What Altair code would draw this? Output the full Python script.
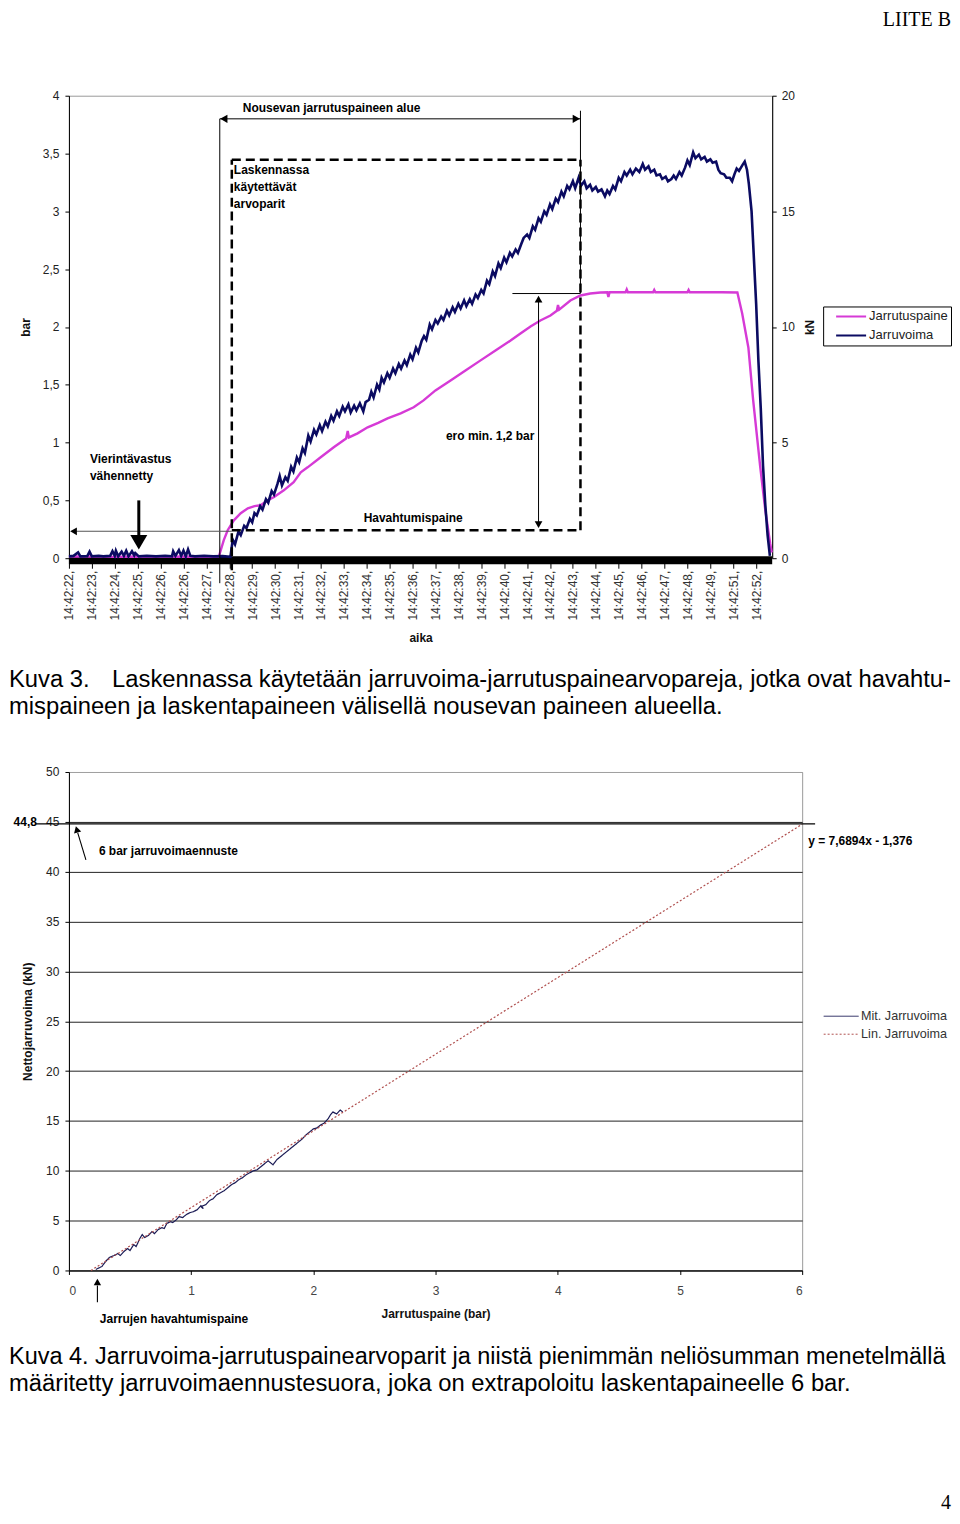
import altair as alt
import pandas as pd

FONT = "Liberation Sans"
MAG = "#d63ad6"
NAVY = "#0b0b62"
NAVY2 = "#1b1b55"
RED = "#b0504f"

# ---------------- Chart 1 (time series) ----------------
time_labels = ["14:42:22,", "14:42:23,", "14:42:24,", "14:42:25,", "14:42:26,", "14:42:26,",
               "14:42:27,", "14:42:28,", "14:42:29,", "14:42:30,", "14:42:31,", "14:42:32,",
               "14:42:33,", "14:42:34,", "14:42:35,", "14:42:36,", "14:42:37,", "14:42:38,",
               "14:42:39,", "14:42:40,", "14:42:41,", "14:42:42,", "14:42:43,", "14:42:44,",
               "14:42:45,", "14:42:46,", "14:42:47,", "14:42:48,", "14:42:49,", "14:42:51,",
               "14:42:52,"]
bar_ticks = [0, 0.5, 1, 1.5, 2, 2.5, 3, 3.5, 4]
kn_ticks = [0, 5, 10, 15, 20]
series1 = ["Jarrutuspaine", "Jarruvoima"]

# Jarrutuspaine (bar) as (time position, bar)
jarrutuspaine = [
    (0.0, 0.015), (1.0, 0.015), (2.0, 0.012), (3.0, 0.015), (4.0, 0.012), (5.0, 0.015),
    (6.0, 0.012), (6.54, 0.012), (6.76, 0.156), (6.93, 0.242), (7.20, 0.328), (7.50, 0.389),
    (7.81, 0.432), (8.10, 0.45), (8.37, 0.458), (8.68, 0.501), (8.94, 0.527), (9.38, 0.587),
    (9.81, 0.657), (10.12, 0.743), (10.42, 0.786), (10.99, 0.873), (11.56, 0.959),
    (12.10, 1.035), (12.17, 1.10), (12.22, 1.045), (12.60, 1.08), (13.04, 1.132),
    (13.50, 1.17), (13.91, 1.21), (14.48, 1.253), (15.05, 1.305), (15.48, 1.365),
    (16.0, 1.451), (16.66, 1.538), (17.31, 1.624), (17.97, 1.711), (18.62, 1.797),
    (19.28, 1.883), (19.71, 1.944), (20.15, 2.004), (20.58, 2.056), (21.02, 2.099),
    (21.30, 2.14), (21.35, 2.19), (21.40, 2.15), (21.89, 2.229), (22.33, 2.272),
    (22.76, 2.289), (23.2, 2.298), (23.5, 2.30), (23.55, 2.26), (23.6, 2.30), (24.3, 2.30),
    (24.35, 2.325), (24.4, 2.30), (25.5, 2.30), (25.55, 2.32), (25.6, 2.30), (27.0, 2.30),
    (27.05, 2.32), (27.1, 2.30), (28.5, 2.30), (29.18, 2.298), (29.39, 2.117),
    (29.66, 1.823), (29.87, 1.365), (30.18, 0.786), (30.4, 0.415), (30.61, 0.130),
    (30.68, 0.05)]

# Jarruvoima (kN) as (time position, kN)
jarruvoima = [
    (0.0, 0.08), (0.2, 0.1), (0.4, 0.25), (0.5, 0.08), (0.8, 0.09), (0.9, 0.28), (1.0, 0.08),
    (1.3, 0.1), (1.5, 0.08), (1.8, 0.1), (1.9, 0.3), (2.0, 0.1), (2.05, 0.32), (2.15, 0.08),
    (2.3, 0.28), (2.4, 0.1), (2.5, 0.32), (2.6, 0.08), (2.75, 0.3), (2.85, 0.12), (2.9, 0.22),
    (3.05, 0.08), (3.4, 0.1), (3.8, 0.08), (4.2, 0.1), (4.5, 0.08), (4.55, 0.3), (4.65, 0.1),
    (4.8, 0.35), (4.9, 0.1), (5.0, 0.33), (5.1, 0.08), (5.2, 0.38), (5.3, 0.1), (5.5, 0.08),
    (5.9, 0.1), (6.3, 0.08), (6.7, 0.09), (7.05, 0.06),
    (7.15, 0.8), (7.25, 0.6), (7.4, 1.15), (7.5, 1.0), (7.65, 1.4), (7.75, 1.3), (7.9, 1.7),
    (8.0, 1.55), (8.1, 1.95), (8.2, 1.85), (8.35, 2.25), (8.45, 2.1), (8.6, 2.55), (8.7, 2.4),
    (8.85, 2.9), (8.95, 2.75), (9.1, 3.2), (9.2, 3.55), (9.3, 3.15), (9.45, 3.5), (9.55, 3.35),
    (9.7, 3.95), (9.8, 3.75), (9.95, 4.35), (10.05, 4.15), (10.2, 4.75), (10.3, 4.55),
    (10.45, 5.3), (10.55, 5.05), (10.7, 5.55), (10.8, 5.35), (10.95, 5.75), (11.05, 5.5),
    (11.2, 5.9), (11.3, 5.7), (11.45, 6.15), (11.55, 5.95), (11.7, 6.35), (11.8, 6.15),
    (11.95, 6.55), (12.05, 6.35), (12.2, 6.65), (12.3, 6.3), (12.45, 6.6), (12.55, 6.4),
    (12.7, 6.7), (12.85, 6.35), (12.95, 6.75), (13.1, 6.85), (13.2, 7.2), (13.3, 6.95),
    (13.45, 7.5), (13.55, 7.3), (13.65, 7.8), (13.75, 7.6), (13.9, 8.0), (14.0, 7.8),
    (14.15, 8.2), (14.25, 8.0), (14.4, 8.4), (14.5, 8.2), (14.65, 8.55), (14.75, 8.35),
    (14.9, 8.8), (15.0, 8.6), (15.15, 9.1), (15.25, 8.9), (15.4, 9.4), (15.5, 9.6),
    (15.6, 9.45), (15.75, 10.1), (15.85, 9.9), (16.0, 10.3), (16.1, 10.15), (16.25, 10.45),
    (16.35, 10.3), (16.5, 10.7), (16.6, 10.5), (16.75, 10.85), (16.85, 10.65), (17.0, 11.0),
    (17.1, 10.8), (17.25, 11.15), (17.35, 10.9), (17.5, 11.2), (17.6, 11.0), (17.75, 11.4),
    (17.85, 11.25), (18.0, 11.6), (18.1, 11.45), (18.25, 12.0), (18.35, 11.85), (18.5, 12.4),
    (18.6, 12.2), (18.75, 12.75), (18.85, 12.55), (19.0, 13.0), (19.1, 12.8), (19.25, 13.2),
    (19.35, 13.05), (19.5, 13.35), (19.6, 13.2), (19.75, 13.6), (19.85, 13.85), (20.0, 14.0),
    (20.1, 13.85), (20.25, 14.35), (20.35, 14.2), (20.5, 14.7), (20.6, 14.55), (20.75, 15.0),
    (20.85, 14.85), (21.0, 15.3), (21.1, 15.1), (21.25, 15.55), (21.35, 15.4), (21.5, 15.85),
    (21.6, 15.65), (21.75, 16.1), (21.85, 15.95), (22.0, 16.3), (22.1, 16.0), (22.25, 16.45),
    (22.35, 16.1), (22.5, 16.3),
    (22.6, 16.0), (22.75, 16.15), (22.85, 15.9), (23.0, 16.05), (23.1, 15.85), (23.25, 15.95),
    (23.4, 15.65), (23.5, 15.9), (23.6, 15.75), (23.75, 16.1), (23.85, 15.95), (24.0, 16.45),
    (24.1, 16.3), (24.25, 16.7), (24.35, 16.55), (24.5, 16.8), (24.6, 16.6), (24.75, 16.85),
    (24.9, 16.7), (25.05, 17.05), (25.15, 16.8), (25.3, 16.95), (25.4, 16.7), (25.55, 16.8),
    (25.65, 16.55), (25.8, 16.6), (25.9, 16.4), (26.05, 16.5), (26.15, 16.3), (26.3, 16.4),
    (26.4, 16.55), (26.5, 16.4), (26.65, 16.7), (26.75, 16.55), (26.9, 16.9), (27.0, 17.2),
    (27.1, 17.0), (27.25, 17.55), (27.35, 17.3), (27.5, 17.45), (27.6, 17.25), (27.75, 17.35),
    (27.85, 17.15), (28.0, 17.25), (28.1, 17.1), (28.25, 17.15), (28.35, 16.8), (28.45, 16.65),
    (28.6, 16.6), (28.7, 16.45), (28.85, 16.45), (28.95, 16.3), (29.05, 16.6), (29.15, 16.85),
    (29.25, 16.75), (29.4, 17.0), (29.5, 17.15), (29.6, 16.8), (29.68, 16.2), (29.8, 15.0),
    (29.9, 13.0), (30.0, 11.0), (30.1, 8.5), (30.2, 6.5), (30.3, 4.0), (30.4, 2.3),
    (30.5, 1.0), (30.6, 0.1)]

# annotations of chart 1 (time position, bar)
notes1_left = [("Nousevan jarrutuspaineen alue", 7.588, 3.896), ("Laskennassa", 7.2, 3.361),
               ("käytettävät", 7.2, 3.214), ("arvoparit", 7.2, 3.067),
               ("Havahtumispaine", 12.865, 0.346), ("Vierintävastus", 0.916, 0.855),
               ("vähennetty", 0.916, 0.708)]
notes1_right = [("ero min. 1,2 bar", 20.32, 1.054)]
solid_rules1 = [(6.585, -0.216, 6.585, 3.80), (6.585, 3.80, 22.33, 3.80),
                (22.33, 2.29, 22.33, 3.87), (19.36, 2.289, 22.33, 2.289),
                (20.5, 0.27, 20.5, 2.26)]
grey_rules1 = [(0.15, 0.233, 7.11, 0.233)]
dashed_rules1 = [(7.11, 3.447, 22.33, 3.447), (7.11, -0.104, 7.11, 3.447),
                 (7.11, 0.242, 22.33, 0.242), (22.33, 0.242, 22.33, 3.447)]
thick_rules1 = [(3.05, 0.50, 3.05, 0.17)]
heads1 = [(6.76, 3.80, "triangle-left", 70), (22.15, 3.80, "triangle-right", 70),
          (20.5, 2.24, "triangle-up", 60), (20.5, 0.29, "triangle-down", 60),
          (0.2, 0.233, "triangle-left", 60), (3.05, 0.138, "triangle-down", 289)]
band1 = [(0.0, 30.7, -0.017)]

# ---------------- Chart 2 (force vs pressure) ----------------
series2 = ["Mit. Jarruvoima", "Lin. Jarruvoima"]
mit_bar = [0.22, 0.27, 0.30, 0.33, 0.37, 0.40, 0.42, 0.45, 0.48, 0.50, 0.53, 0.55, 0.58, 0.60,
           0.62, 0.65, 0.68, 0.70, 0.73, 0.76, 0.78, 0.80, 0.83, 0.85, 0.88, 0.90, 0.93, 0.96,
           0.99, 1.02, 1.05, 1.08, 1.10, 1.08, 1.12, 1.15, 1.18, 1.21, 1.24, 1.27, 1.30, 1.33,
           1.36, 1.39, 1.42, 1.45, 1.48, 1.51, 1.54, 1.57, 1.60, 1.63, 1.65, 1.67, 1.70, 1.73,
           1.76, 1.79, 1.82, 1.85, 1.88, 1.91, 1.94, 1.97, 2.00, 2.03, 2.06, 2.09, 2.12, 2.14,
           2.16, 2.19, 2.22, 2.24]
mit_kn = [0.1, 0.4, 0.9, 1.3, 1.5, 1.7, 1.5, 1.9, 2.2, 2.0, 2.6, 2.4, 3.2, 3.6, 3.3, 3.5, 3.9,
          3.7, 4.1, 4.3, 4.2, 4.7, 4.9, 4.8, 5.1, 5.4, 5.3, 5.6, 5.8, 5.9, 6.1, 6.5, 6.2, 6.4,
          6.6, 7.0, 7.2, 7.6, 7.8, 8.0, 8.3, 8.6, 8.8, 9.1, 9.3, 9.6, 9.8, 10.0, 10.1, 10.4, 10.7,
          11.0, 10.8, 10.6, 11.1, 11.4, 11.7, 12.0, 12.3, 12.6, 12.9, 13.2, 13.6, 13.9, 14.2,
          14.3, 14.6, 14.8, 15.2, 15.6, 15.9, 15.7, 16.1, 15.9]
lin_bar = [0.18, 6.0]
lin_kn = [0.0, 44.76]
x2_ticks = [0, 1, 2, 3, 4, 5, 6]
y2_ticks = [0, 5, 10, 15, 20, 25, 30, 35, 40, 45, 50]

notes2_left = [("6 bar jarruvoimaennuste", 0.245, 42.08), ("y = 7,6894x - 1,376", 6.05, 43.09),
               ("Jarrujen havahtumispaine", 0.253, -4.86)]
notes2_right = [("44,8", -0.262, 44.95)]
rules2 = [(-0.27, 44.8, 6.106, 44.8), (0.139, 41.18, 0.072, 43.9), (0.233, -3.2, 0.233, -1.5)]
heads2 = [(0.233, -1.15, "triangle-up", 55, 0), (0.064, 44.25, "triangle-up", 55, 344)]

# page texts
caption3_lead = "Kuva 3."
caption3_rest = "Laskennassa käytetään jarruvoima-jarrutuspainearvopareja, jotka ovat havahtu-"
caption3_line2 = "mispaineen ja laskentapaineen välisellä nousevan paineen alueella."
caption4_line1 = "Kuva 4. Jarruvoima-jarrutuspainearvoparit ja niistä pienimmän neliösumman menetelmällä"
caption4_line2 = "määritetty jarruvoimaennustesuora, joka on extrapoloitu laskentapaineelle 6 bar."

# ---------------- build chart 1 ----------------
X1 = alt.Scale(domain=[0, 30.7], nice=False, zero=False)
YB = alt.Scale(domain=[0, 4], nice=False, zero=False)
YK = alt.Scale(domain=[0, 20], nice=False, zero=False)
label_expr = "[" + ",".join("'%s'" % s for s in time_labels) + "][datum.value]"

df_p = pd.DataFrame({"t": [p[0] for p in jarrutuspaine], "v": [p[1] for p in jarrutuspaine],
                     "s": series1[0]})
df_v = pd.DataFrame({"t": [p[0] for p in jarruvoima], "v": [p[1] for p in jarruvoima],
                     "s": series1[1]})

legend1 = alt.Legend(title=None, orient="none", legendX=755, legendY=211, strokeColor="black",
                     fillColor="white", padding=3, symbolType="stroke", symbolSize=900,
                     symbolStrokeWidth=2, symbolOffset=9, labelOffset=2, labelFont=FONT,
                     labelFontSize=13, labelColor="#222", rowPadding=5, clipHeight=14)
color1 = alt.Color("s:N", scale=alt.Scale(domain=series1, range=[MAG, NAVY]), legend=legend1)

CAP = 23.8


def rules_df(rows):
    return pd.DataFrame(rows, columns=["a", "b", "a2", "b2"])


def rule_layer(rows, xs, ys, **kw):
    return alt.Chart(rules_df(rows)).mark_rule(**kw).encode(
        x=alt.X("a:Q", scale=xs, axis=None), y=alt.Y("b:Q", scale=ys, axis=None),
        x2="a2:Q", y2="b2:Q")


def text_layer(rows, xs, ys, align, size=12, weight="bold"):
    return alt.Chart(pd.DataFrame(rows, columns=["txt", "a", "b"])).mark_text(
        align=align, baseline="middle", font=FONT, fontSize=size, fontWeight=weight,
        color="black").encode(
        x=alt.X("a:Q", scale=xs, axis=None), y=alt.Y("b:Q", scale=ys, axis=None),
        text="txt:N")


def px_text(txt, x, y, size, font=FONT, align="left", baseline="alphabetic"):
    return alt.Chart(pd.DataFrame({"txt": [txt]})).mark_text(
        align=align, baseline=baseline, font=font, fontSize=size, color="black").encode(
        text="txt:N", x=alt.value(x), y=alt.value(y))


band = alt.Chart(pd.DataFrame(band1, columns=["a", "a2", "b"])).mark_rule(
    color="black", strokeWidth=8).encode(
    x=alt.X("a:Q", scale=X1, axis=None), x2="a2:Q", y=alt.Y("b:Q", scale=YB, axis=None))

line_p = alt.Chart(df_p).mark_line(strokeWidth=2.4).encode(
    x=alt.X("t:Q", scale=X1, axis=alt.Axis(
        values=list(range(len(time_labels))), labelExpr=label_expr, labelAngle=270,
        title="aika", domain=False, tickSize=10, labelPadding=2, grid=False, titlePadding=12,
        labelColor="#333")),
    y=alt.Y("v:Q", scale=YB, axis=alt.Axis(
        orient="left", values=bar_ticks, title="bar", grid=False, tickSize=4, labelPadding=6,
        labelExpr="replace(toString(datum.value), '.', ',')", titlePadding=10)),
    color=color1)

line_v = alt.Chart(df_v).mark_line(strokeWidth=2.6).encode(
    x=alt.X("t:Q", scale=X1, axis=None),
    y=alt.Y("v:Q", scale=YK, axis=alt.Axis(
        orient="right", values=kn_ticks, title="kN", titleAngle=270, titleBaseline="top",
        grid=False, tickSize=4, labelPadding=5, titlePadding=10)),
    color=color1)

heads_1 = alt.Chart(pd.DataFrame(heads1, columns=["a", "b", "shape", "size"])).mark_point(
    filled=True, color="black", opacity=1).encode(
    x=alt.X("a:Q", scale=X1, axis=None), y=alt.Y("b:Q", scale=YB, axis=None),
    shape=alt.Shape("shape:N", scale=None), size=alt.Size("size:Q", scale=None))

chart1 = alt.layer(
    band, line_p, line_v,
    rule_layer(solid_rules1, X1, YB, color="black", strokeWidth=1),
    rule_layer(grey_rules1, X1, YB, color="#555555", strokeWidth=1.2),
    rule_layer(dashed_rules1, X1, YB, color="black", strokeWidth=2.5, strokeDash=[9, 5]),
    rule_layer(thick_rules1, X1, YB, color="black", strokeWidth=3),
    heads_1,
    text_layer(notes1_left, X1, YB, "left"),
    text_layer(notes1_right, X1, YB, "right"),
    px_text("LIITE B", 883, -85.9, 20, font="Liberation Serif", align="right", baseline="top"),
    px_text(caption3_lead, -60, 591.5, CAP),
    px_text(caption3_rest, 883, 591.5, CAP, align="right"),
    px_text(caption3_line2, -60, 618.5, CAP),
).resolve_scale(x="independent", y="independent").properties(width=704, height=463)

# ---------------- build chart 2 ----------------
X2 = alt.Scale(domain=[0, 6], nice=False, zero=False)
Y2 = alt.Scale(domain=[0, 50], nice=False, zero=False)

df_m = pd.DataFrame({"p": mit_bar, "f": mit_kn, "s": series2[0], "i": list(range(len(mit_bar)))})
df_l = pd.DataFrame({"p": lin_bar, "f": lin_kn, "s": series2[1], "i": [0, 1]})
df2 = pd.concat([df_m, df_l], ignore_index=True)

legend2 = alt.Legend(title=None, orient="none", legendX=755, legendY=238.5, padding=0,
                     symbolType="stroke", symbolSize=1225, symbolStrokeWidth=1, labelOffset=2,
                     labelFont=FONT, labelFontSize=12.6, labelColor="#333", rowPadding=5,
                     clipHeight=12)

lines2 = alt.Chart(df2).mark_line(strokeWidth=1.2).encode(
    x=alt.X("p:Q", scale=X2, axis=alt.Axis(
        values=x2_ticks, title="Jarrutuspaine (bar)", grid=False, tickSize=4, labelPadding=11,
        titlePadding=12.5, labelColor="#444")),
    y=alt.Y("f:Q", scale=Y2, axis=alt.Axis(
        values=y2_ticks, title="Nettojarruvoima (kN)", grid=True, tickSize=4, labelPadding=6,
        titlePadding=11,
        gridColor={"condition": {"test": "datum.value == 50", "value": "#a0a0a0"},
                   "value": "#222222"})),
    color=alt.Color("s:N", scale=alt.Scale(domain=series2, range=[NAVY2, RED]), legend=legend2),
    strokeDash=alt.StrokeDash("s:N", scale=alt.Scale(domain=series2, range=[[1, 0], [2, 2]]),
                              legend=legend2),
    order=alt.Order("i:Q"))

heads_2 = alt.Chart(pd.DataFrame(heads2, columns=["a", "b", "shape", "size", "ang"])).mark_point(
    filled=True, color="black", opacity=1).encode(
    x=alt.X("a:Q", scale=X2, axis=None), y=alt.Y("b:Q", scale=Y2, axis=None),
    shape=alt.Shape("shape:N", scale=None), size=alt.Size("size:Q", scale=None),
    angle=alt.Angle("ang:Q", scale=None))

chart2 = alt.layer(
    lines2,
    rule_layer(rules2, X2, Y2, color="black", strokeWidth=1.1),
    heads_2,
    text_layer(notes2_left, X2, Y2, "left"),
    text_layer(notes2_right, X2, Y2, "right"),
    px_text(caption4_line1, -60, 592.5, 23.5),
    px_text(caption4_line2, -60, 619.5, CAP),
    px_text("4", 883, 732, 20, font="Liberation Serif", align="right", baseline="middle"),
).resolve_scale(x="independent", y="independent").properties(width=734, height=499)

chart = alt.vconcat(chart1, chart2, spacing=214, bounds="flush").resolve_scale(
    color="independent", strokeDash="independent"
).properties(padding=0).configure_view(
    stroke="#9a9a9a", strokeWidth=1
).configure_axis(
    labelFont=FONT, titleFont=FONT, labelFontSize=12, titleFontSize=12, titleFontWeight="bold",
    labelColor="#222", titleColor="#111", domainColor="black", tickColor="black",
    domainWidth=1, tickWidth=1
)

chart.save("out.html", embed_options={"renderer": "svg", "actions": False})
